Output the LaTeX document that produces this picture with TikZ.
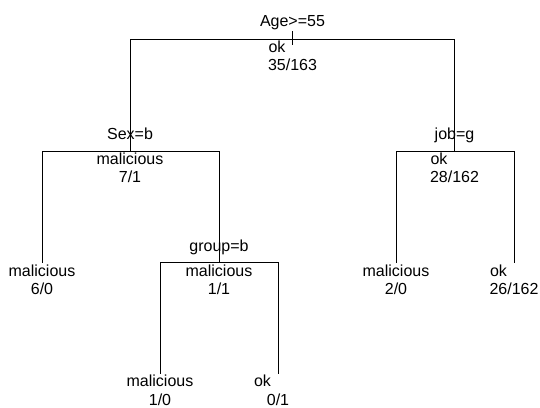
\documentclass[tikz,border=0pt]{standalone}
\usepackage{fontspec}
\setmainfont{Liberation Sans}
\usepackage{tikz}
\newcommand\okpad{\makebox[48pt][l]{ok}}
\tikzset{
  split/.style={anchor=base, inner sep=0},
  info/.style={anchor=base, inner sep=0, align=center},
}

\begin{document}
\begin{tikzpicture}[x=1pt, y=-1pt, line width=0.8pt,
    font=\fontsize{16}{18.5}\selectfont]
  \useasboundingbox (0,0) rectangle (540,407);

  % split points
  \coordinate (root) at (292.5, 39);
  \coordinate (sex) at (130, 151);
  \coordinate (job) at (454.5, 151);
  \coordinate (grp) at (219, 262.7);

  % leaf ends
  \coordinate (leafa) at (42, 262.7);
  \coordinate (leafb) at (160, 374);
  \coordinate (leafc) at (278, 374);
  \coordinate (leafd) at (396, 262.7);
  \coordinate (leafe) at (514, 262.7);

  \draw ([yshift=8pt]root) -- ([yshift=-6pt]root);
  \draw (root) -| (sex);
  \draw (root) -| (job);
  \draw (sex) -| (leafa);
  \draw (sex) -| (grp);
  \draw (grp) -| (leafb);
  \draw (grp) -| (leafc);
  \draw (job) -| (leafd);
  \draw (job) -| (leafe);

  % base of a two-line node is its second line
  \node [split] (rootsplit) at ([yshift=12.5pt]root) {Age>=55};
  \node [info] (rootinfo) at ([yshift=-31.5pt]root) {\okpad\\35/163};

  \node [split] (sexsplit) at ([yshift=11.5pt]sex) {Sex=b};
  \node [info] (sexinfo) at ([yshift=-31.5pt]sex) {malicious\\7/1};

  \node [split] (jobsplit) at ([yshift=12pt]job) {job=g};
  \node [info] (jobinfo) at ([yshift=-31.5pt]job) {\okpad\\28/162};

  \node [split] (grpsplit) at ([yshift=11.5pt]grp) {group=b};
  \node [info] (grpinfo) at ([yshift=-32pt]grp) {malicious\\1/1};

  \node [info] (leafainfo) at ([yshift=-32pt]leafa) {malicious\\6/0};
  \node [info] (leafbinfo) at ([yshift=-31pt]leafb) {malicious\\1/0};
  \node [info] (leafcinfo) at ([yshift=-31pt]leafc) {\okpad\\0/1};
  \node [info] (leafdinfo) at ([yshift=-32pt]leafd) {malicious\\2/0};
  \node [info] (leafeinfo) at ([yshift=-32pt]leafe) {\okpad\\26/162};
\end{tikzpicture}
\end{document}
